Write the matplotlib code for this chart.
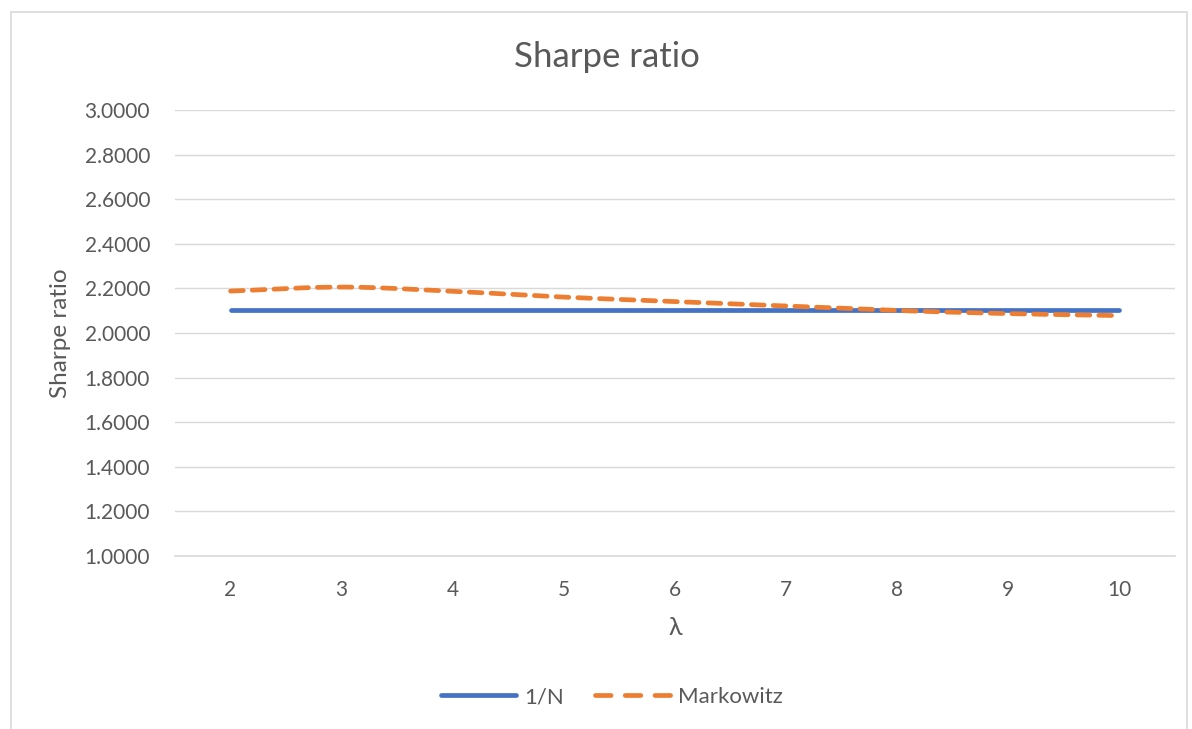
import numpy as np
import matplotlib.pyplot as plt
from matplotlib.patches import Rectangle
from matplotlib.lines import Line2D

plt.rcParams['font.family'] = ['Lato', 'DejaVu Sans']

# Данные
lam = [2, 3, 4, 5, 6, 7, 8, 9, 10]
one_over_n = [2.104, 2.104, 2.104, 2.104, 2.104, 2.104, 2.104, 2.104, 2.104]
markowitz = [2.188, 2.206, 2.187, 2.161, 2.141, 2.121, 2.101, 2.087, 2.078]
y_ticks = [1.0, 1.2, 1.4, 1.6, 1.8, 2.0, 2.2, 2.4, 2.6, 2.8, 3.0]

text_col = '#595959'
grid_col = '#D9D9D9'
blue = '#4472C4'
orange = '#ED7D31'


def smooth(xs, ys, n=20):
    # сглаживание как в Excel (Catmull-Rom)
    xs = np.asarray(xs, float)
    ys = np.asarray(ys, float)
    px = np.concatenate([[2 * xs[0] - xs[1]], xs, [2 * xs[-1] - xs[-2]]])
    py = np.concatenate([[2 * ys[0] - ys[1]], ys, [2 * ys[-1] - ys[-2]]])
    out_x, out_y = [], []
    t = np.linspace(0, 1, n, endpoint=False)
    for i in range(1, len(px) - 2):
        for p, o in ((px, out_x), (py, out_y)):
            p0, p1, p2, p3 = p[i - 1], p[i], p[i + 1], p[i + 2]
            o.extend(0.5 * (2 * p1 + (-p0 + p2) * t
                            + (2 * p0 - 5 * p1 + 4 * p2 - p3) * t ** 2
                            + (-p0 + 3 * p1 - 3 * p2 + p3) * t ** 3))
    out_x.append(xs[-1])
    out_y.append(ys[-1])
    return np.array(out_x), np.array(out_y)


fig = plt.figure(figsize=(11.92, 7.29), dpi=100)
fig.patches.append(Rectangle((11 / 1192, -0.01), 1176 / 1192, 1 - 12 / 729 + 0.01,
                             transform=fig.transFigure, fill=False,
                             edgecolor=grid_col, linewidth=1.2))

ax = fig.add_axes([175 / 1192, 173 / 729, 1000 / 1192, 446 / 729])

xi = np.arange(len(lam))
sx, sy = smooth(xi, one_over_n)
ax.plot(sx, sy, color=blue, linewidth=3.4, solid_capstyle='round')
sx, sy = smooth(xi, markowitz)
ax.plot(sx, sy, color=orange, linewidth=3.4, dashes=(2.7, 1.9),
        dash_capstyle='round')

ax.set_xlim(-0.5, len(lam) - 0.5)
ax.set_ylim(1.0, 3.0)
ax.set_xticks(xi)
ax.set_xticklabels([str(v) for v in lam])
ax.set_yticks(y_ticks)
ax.set_yticklabels([f'{v:.4f}' for v in y_ticks])
ax.tick_params(length=0, labelsize=15, colors=text_col)
ax.tick_params(axis='y', pad=18)
ax.tick_params(axis='x', pad=17)
for s in ax.spines.values():
    s.set_visible(False)
ax.grid(axis='y', color=grid_col, linewidth=1)
ax.axhline(1.0, color=grid_col, linewidth=1.2, clip_on=False, zorder=0.5)
ax.set_axisbelow(True)

fig.text(607 / 1192, 1 - 57 / 729, 'Sharpe ratio', fontsize=25, color=text_col,
         ha='center', va='center')
ax.set_ylabel('Sharpe ratio', fontsize=17.5, color=text_col, labelpad=10)
ax.set_xlabel('λ', fontsize=18, color=text_col, labelpad=12)

# легенда
handles = [
    Line2D([], [], color=blue, linewidth=3.4, solid_capstyle='round'),
    Line2D([], [], color=orange, linewidth=3.4, dashes=(3.3, 3.0),
           dash_capstyle='round'),
]
fig.legend(handles, ['1/N', 'Markowitz'], loc='center',
           bbox_to_anchor=(612 / 1192, 1 - 697 / 729), ncol=2,
           frameon=False, fontsize=16, labelcolor=text_col, handlelength=3.4,
           columnspacing=1.4, handletextpad=0.35)

fig.savefig('out.png', dpi=100)
